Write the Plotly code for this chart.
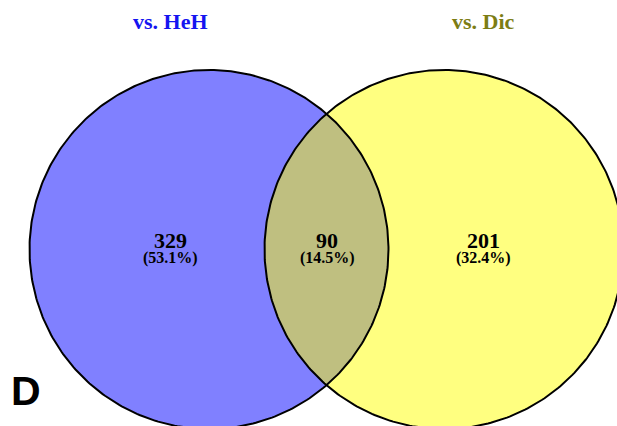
import numpy as np
import plotly.graph_objects as go

# Set names and the number of genes in each region of the two-set Venn diagram
set_names = ["vs. HeH", "vs. Dic"]
region_labels = ["HeH only", "HeH & Dic", "Dic only"]
region_counts = [329, 90, 201]

W, H = 617, 426

# Circle geometry (pixel coordinates, y grows downward)
CX = [209.0, 444.0]
CY = 249.5
R = 179.5

FILL_LEFT = "#8080ff"
FILL_RIGHT = "#ffff80"
FILL_BOTH = "#bfbf80"
TITLE_COLORS = ["#1414f0", "#7d7d14"]


def arc(cx, cy, r, a0, a1, n=400):
    t = np.linspace(a0, a1, n)
    return cx + r * np.cos(t), cy + r * np.sin(t)


fig = go.Figure()

# circle fills
for cx, col in zip(CX, [FILL_LEFT, FILL_RIGHT]):
    x, y = arc(cx, CY, R, 0, 2 * np.pi)
    fig.add_trace(go.Scatter(x=x, y=y, mode="lines", fill="toself",
                             fillcolor=col, line=dict(width=0),
                             hoverinfo="skip", showlegend=False))

# overlap (lens) region
d = CX[1] - CX[0]
a = d / 2.0
alpha = np.arccos(a / R)
xl, yl = arc(CX[0], CY, R, -alpha, alpha)
xr, yr = arc(CX[1], CY, R, np.pi - alpha, np.pi + alpha)
fig.add_trace(go.Scatter(x=np.concatenate([xl, xr]), y=np.concatenate([yl, yr]),
                         mode="lines", fill="toself", fillcolor=FILL_BOTH,
                         line=dict(width=0), hoverinfo="skip", showlegend=False))

# circle outlines
for cx in CX:
    x, y = arc(cx, CY, R, 0, 2 * np.pi)
    fig.add_trace(go.Scatter(x=x, y=y, mode="lines",
                             line=dict(color="black", width=2),
                             hoverinfo="skip", showlegend=False))

total = sum(region_counts)
label_x = [170, 327, 483]
annotations = []
for lx, cnt in zip(label_x, region_counts):
    annotations.append(dict(x=lx, y=240, text=f"<b>{cnt}</b>", showarrow=False,
                            xanchor="center", yanchor="middle",
                            font=dict(family="Liberation Serif", size=22, color="black")))
    annotations.append(dict(x=lx, y=258, text=f"<b>({100 * cnt / total:.1f}%)</b>",
                            showarrow=False, xanchor="center", yanchor="middle",
                            font=dict(family="Liberation Serif", size=16, color="black")))

for tx, name, col in zip([170, 483], set_names, TITLE_COLORS):
    annotations.append(dict(x=tx, y=21, text=f"<b>{name}</b>", showarrow=False,
                            xanchor="center", yanchor="middle",
                            font=dict(family="Liberation Serif", size=22, color=col)))

annotations.append(dict(x=25.5, y=390.5, text="<b>D</b>", showarrow=False,
                        xanchor="center", yanchor="middle",
                        font=dict(family="Liberation Sans", size=41, color="black")))

fig.update_layout(
    width=W, height=H,
    margin=dict(l=0, r=0, t=0, b=0),
    paper_bgcolor="white", plot_bgcolor="white",
    xaxis=dict(range=[0, W], visible=False, fixedrange=True),
    yaxis=dict(range=[H, 0], visible=False, fixedrange=True),
    annotations=annotations,
)

fig.write_html("out.html")
